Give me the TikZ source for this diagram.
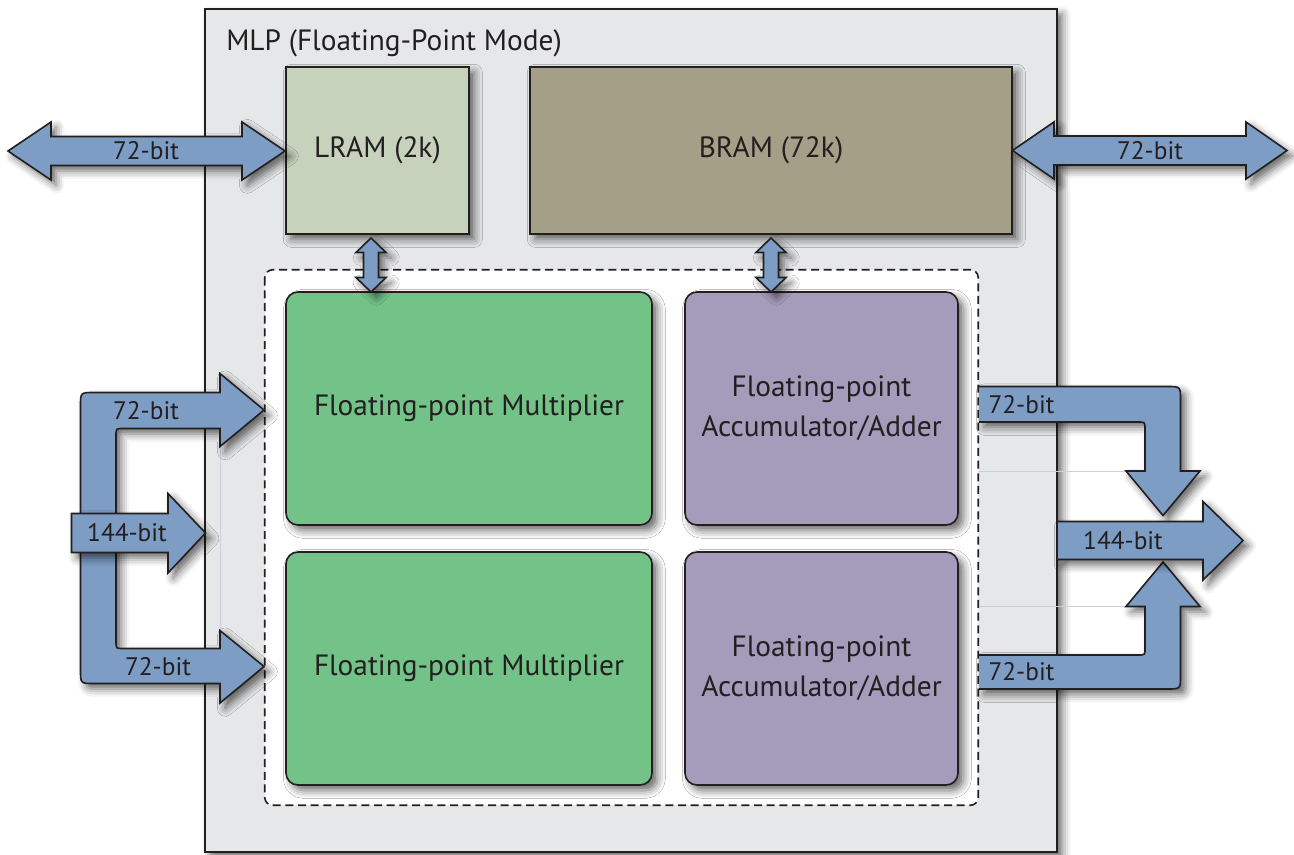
\documentclass[tikz,border=0pt]{standalone}
\usepackage{fontspec}
\setmainfont{PT Sans}
\usetikzlibrary{shadows.blur,fit}

\definecolor{mlpgray}{HTML}{E6E7E8}
\definecolor{lramcol}{HTML}{C6D2BC}
\definecolor{bramcol}{HTML}{A59F87}
\definecolor{mulcol}{HTML}{73C389}
\definecolor{acccol}{HTML}{A59BBB}
\definecolor{buscol}{HTML}{7D9DC5}
\definecolor{inkcol}{HTML}{231F20}
\definecolor{ghostcol}{HTML}{C9CFDC}

\tikzset{
  softshadow/.style={blur shadow={shadow xshift=4pt,shadow yshift=-4pt,
      shadow blur radius=6pt,shadow opacity=60}},
  blockbox/.style={draw=inkcol,line width=1.2pt,inner sep=0pt,softshadow},
  unitbox/.style={blockbox,rounded corners=9pt},
  boxtext/.style={text=inkcol,font=\fontsize{22}{30}\selectfont,align=center},
  busfill/.style={fill=buscol,softshadow},
  busline/.style={draw=inkcol,line width=1.2pt},
  bus/.style={busfill,busline},
  buslabel/.style={text=inkcol,font=\fontsize{19}{22}\selectfont,inner sep=0pt},
}

% vertical double-headed bus: centre x, top tip y, bottom tip y
\newcommand\vbus[3]{%
  \draw[bus] (#1,#2) -- ++(15,14.5) -- ++(-7.5,0) -- (#1+7.5,#3-14.5)
    -- ++(7.5,0) -- (#1,#3) -- ++(-15,-14.5) -- ++(7.5,0)
    -- (#1-7.5,#2+14.5) -- ++(-7.5,0) -- cycle;}

\begin{document}
\begin{tikzpicture}[x=0.75pt,y=-0.75pt]
\useasboundingbox (0,0) rectangle (1294,854);

% MLP block
\node[fit={(205,9) (1057,852)},inner sep=0pt,draw=inkcol,line width=1.4pt,
  fill=mlpgray,softshadow] (mlp) {};
\node[anchor=west,text=inkcol,font=\fontsize{22}{26}\selectfont,inner sep=0pt]
  (title) at (226,43) {MLP (Floating-Point Mode)};

% memories
\node[blockbox,fill=lramcol,fit={(286,67) (469,234)}] (lram) {};
\node[boxtext] (lramtxt) at (lram.center) {LRAM (2k)};
\node[blockbox,fill=bramcol,fit={(530,67) (1012,234)}] (bram) {};
\node[boxtext] (bramtxt) at (bram.center) {BRAM (72k)};

% datapath region
\node[fit={(265,270) (978,805)},inner sep=0pt,fill=white,rounded corners=6pt] (dp) {};

% arithmetic units
\node[unitbox,fill=mulcol,fit={(286,292) (652,525)}] (mul1) {};
\node[boxtext] (mul1t) at (mul1.center) {Floating-point Multiplier};
\node[unitbox,fill=mulcol,fit={(286,552) (652,785)}] (mul2) {};
\node[boxtext] (mul2t) at (mul2.center) {Floating-point Multiplier};
\node[unitbox,fill=acccol,fit={(685,292) (958,525)}] (acc1) {};
\node[boxtext] (acc1t) at (acc1.center) {Floating-point\\Accumulator/Adder};
\node[unitbox,fill=acccol,fit={(685,552) (958,785)}] (acc2) {};
\node[boxtext] (acc2t) at (acc2.center) {Floating-point\\Accumulator/Adder};

% dashed outline of the datapath region
\draw[inkcol,line width=1.2pt,dash pattern=on 6pt off 3.5pt,rounded corners=6pt]
  (dp.north west) rectangle (dp.south east);

% faint guide lines
\draw[ghostcol,line width=0.6pt] (979,471) -- (1126,471);
\draw[ghostcol,line width=0.6pt] (979,606.5) -- (1126,606.5);
\draw[ghostcol,line width=0.6pt] (220,447) -- (220,630);

% top external buses
\draw[bus] (8,151) -- (51,122) -- (51,136.5) -- (242,136.5) -- (242,122)
  -- (285,151) -- (242,180) -- (242,165.5) -- (51,165.5) -- (51,180) -- cycle;
\node[buslabel] (lbusl) at (146,151) {72-bit};
\draw[bus] (1012.5,150.5) -- (1054,122) -- (1054,136) -- (1246,136) -- (1246,122)
  -- (1287,150.5) -- (1246,179) -- (1246,165) -- (1054,165) -- (1054,179) -- cycle;
\node[buslabel] (rbusl) at (1150,150.5) {72-bit};

% memory-to-unit buses
\vbus{371}{238}{292}
\vbus{771}{238}{292}

% input bundle
\draw[bus] (264,410) -- (220,373.5) -- (220,392.5) -- (94,392.5)
  .. controls (80.5,392.5) .. (80.5,406) -- (80.5,670)
  .. controls (80.5,683.5) .. (94,683.5) -- (220,683.5) -- (220,703)
  -- (264,666.5) -- (220,630.5) -- (220,648.5) -- (123,648.5)
  .. controls (116,648.5) .. (116,641.5) -- (116,435.5)
  .. controls (116,428.5) .. (123,428.5) -- (220,428.5) -- (220,446.5) -- cycle;
\draw[bus] (71.5,513.5) -- (168,513.5) -- (168,493.5) -- (205.5,533)
  -- (168,573) -- (168,552.5) -- (71.5,552.5) -- cycle;
\node[buslabel] (in1) at (146,411) {72-bit};
\node[buslabel] (in2) at (158,667) {72-bit};
\node[buslabel] (in0) at (127,533) {144-bit};

% output bundle
\path[busfill] (979,386.5) -- (1167,386.5) .. controls (1180.5,386.5) .. (1180.5,400)
  -- (1180.5,471) -- (1200,471) -- (1163,515.5) -- (1126,471) -- (1145,471)
  -- (1145,429) .. controls (1145,422) .. (1138,422) -- (979,422) -- cycle;
\draw[busline] (979,386.5) -- (1167,386.5) .. controls (1180.5,386.5) .. (1180.5,400)
  -- (1180.5,471) -- (1200,471) -- (1163,515.5) -- (1126,471) -- (1145,471)
  -- (1145,429) .. controls (1145,422) .. (1138,422) -- (979,422);
\path[busfill] (979,689) -- (1167,689) .. controls (1180.5,689) .. (1180.5,675.5)
  -- (1180.5,606.5) -- (1200,606.5) -- (1163,562) -- (1126,606.5) -- (1145,606.5)
  -- (1145,648) .. controls (1145,655) .. (1138,655) -- (979,655) -- cycle;
\draw[busline] (979,689) -- (1167,689) .. controls (1180.5,689) .. (1180.5,675.5)
  -- (1180.5,606.5) -- (1200,606.5) -- (1163,562) -- (1126,606.5) -- (1145,606.5)
  -- (1145,648) .. controls (1145,655) .. (1138,655) -- (979,655);
\draw[bus] (1057,521.5) -- (1203,521.5) -- (1203,501.5) -- (1243,540.5)
  -- (1203,580) -- (1203,559.5) -- (1057,559.5) -- cycle;
\node[buslabel] (out1) at (1021.5,405) {72-bit};
\node[buslabel] (out2) at (1021.5,672) {72-bit};
\node[buslabel] (out0) at (1123,540.5) {144-bit};
\end{tikzpicture}
\end{document}
